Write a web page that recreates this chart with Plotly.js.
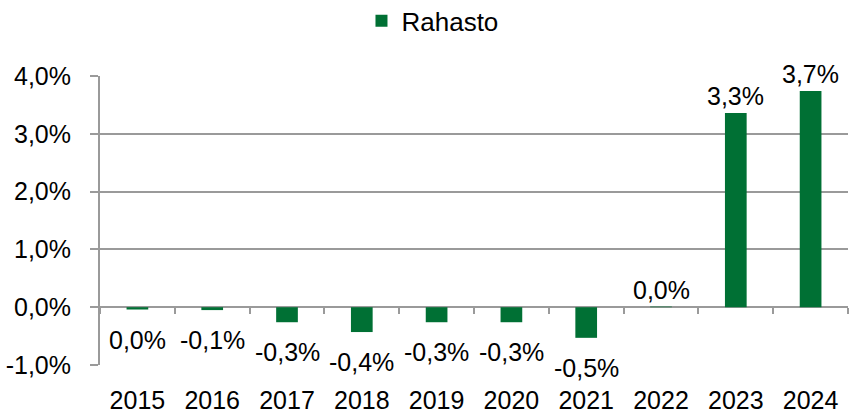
<!DOCTYPE html>
<html>
<head>
<meta charset="utf-8">
<script src="https://cdn.plot.ly/plotly-3.0.1.min.js"></script>
<style>html,body{margin:0;padding:0;background:#fff;}#chart{width:849px;height:409px;}</style>
</head>
<body>
<div id="chart"></div>
<script>
var years = ["2015","2016","2017","2018","2019","2020","2021","2022","2023","2024"];
var values = [-0.04, -0.05, -0.26, -0.43, -0.26, -0.26, -0.53, 0.01, 3.36, 3.74];
var labels = ["0,0%","-0,1%","-0,3%","-0,4%","-0,3%","-0,3%","-0,5%","0,0%","3,3%","3,7%"];
var yTickVals = [-1, 0, 1, 2, 3, 4];
var yTickText = ["-1,0%","0,0%","1,0%","2,0%","3,0%","4,0%"];
var seriesName = "Rahasto";

var green = "rgb(0,112,52)";
var gridColor = "#9a9a9a";
var font = "Liberation Sans, Arial, sans-serif";
var fs = 25;

var annotations = years.map(function(y, i) {
  var v = values[i];
  var neg = v < 0;
  return {
    x: i, y: v, xref: "x", yref: "y",
    text: labels[i], showarrow: false,
    yanchor: neg ? "top" : "bottom",
    yshift: neg ? -14 : 1,
    font: {family: font, size: fs, color: "#000"}
  };
});

var data = [
  {
    type: "bar", x: years, y: values, name: seriesName,
    marker: {color: green}, width: 0.29,
    hoverinfo: "none"
  }
];

var layout = {
  width: 849, height: 409,
  margin: {l: 100, r: 1, t: 76, b: 44},
  paper_bgcolor: "#fff", plot_bgcolor: "#fff",
  font: {family: font, size: fs, color: "#000"},
  showlegend: true,
  legend: {orientation: "h", x: 0.5094, xref: "container", xanchor: "center",
           y: 0.949, yref: "container", yanchor: "middle",
           font: {family: font, size: 26, color: "#000"}},
  xaxis: {
    type: "category", range: [-0.5, 9.5], domain: [0, 1], showgrid: false, zeroline: false,
    showline: false, anchor: "free", position: 0.2, tickangle: 0,
    ticks: "outside", tickson: "boundaries", ticklen: 6, tickcolor: gridColor, tickwidth: 2,
    tickfont: {family: font, size: fs, color: "#000"},
    ticklabelstandoff: 76, fixedrange: true
  },
  yaxis: {
    range: [-1, 4], domain: [0, 1], tickvals: yTickVals, ticktext: yTickText,
    showgrid: true, gridcolor: gridColor, gridwidth: 2,
    zeroline: false, showline: true, linecolor: gridColor, linewidth: 2,
    ticks: "outside", ticklen: 8, tickcolor: gridColor, tickwidth: 2,
    tickfont: {family: font, size: fs, color: "#000"}, ticklabelstandoff: 14,
    fixedrange: true
  },
  annotations: annotations
};

Plotly.newPlot("chart", data, layout, {displayModeBar: false, staticPlot: true});
</script>
</body>
</html>
